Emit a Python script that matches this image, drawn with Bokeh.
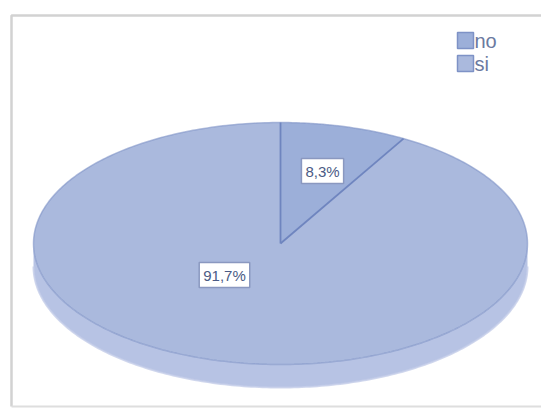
import numpy as np
from bokeh.plotting import figure
from bokeh.models import Range1d
from bokeh.core.properties import value
from bokeh.embed import file_html
from bokeh.resources import INLINE

# ---- data ----
categories = ["no", "si"]
percentages = [8.3, 91.7]
labels = ["8,3%", "91,7%"]
slice_colors = ["#9cafd9", "#aab9dd"]

# ---- layout constants ----
W, H = 541, 408
cx, cy = 280, 243
rx, ry = 247, 121
depth = 23
side_color = "#b7c3e4"
edge_color = "#7e92c6"
label_r = [(0.66, 0.62), (0.88, 0.27)]

p = figure(width=W, height=H, output_backend="svg", toolbar_location=None,
           x_range=Range1d(0, W), y_range=Range1d(H, 0), min_border=0)
p.axis.visible = False
p.grid.visible = False
p.outline_line_color = None
p.background_fill_color = "white"
p.border_fill_color = "white"

# frame
p.line([11, 11, W + 5], [H - 2, 15, 15], line_color="#d2d2d2", line_width=2.5)
p.line([11, W + 5], [H - 2, H - 2], line_color="#dedede", line_width=2)

def ell(theta, dy=0.0):
    # theta measured clockwise from 12 o'clock
    return cx + rx * np.sin(theta), cy - ry * np.cos(theta) + dy

# side band (visible front half)
t_front = np.linspace(np.pi / 2, 3 * np.pi / 2, 200)
xt, yt = ell(t_front)
xb, yb = ell(t_front[::-1], depth)
p.patch(np.concatenate([xt, xb]), np.concatenate([yt, yb]),
        fill_color=side_color, line_color=None)
xb2, yb2 = ell(t_front, depth)
p.line(xb2, yb2, line_color="#c4cde8", line_width=2, line_alpha=0.8)

# top face slices
fracs = np.array(percentages) / sum(percentages)
starts = np.concatenate([[0], np.cumsum(fracs)[:-1]]) * 2 * np.pi
ends = np.cumsum(fracs) * 2 * np.pi
xs, ys = [], []
for s, e in zip(starts, ends):
    t = np.linspace(s, e, 300)
    x, y = ell(t)
    xs.append(np.concatenate([[cx], x, [cx]]))
    ys.append(np.concatenate([[cy], y, [cy]]))
p.patches(xs, ys, fill_color=slice_colors, line_color=None)

# outer rim (soft) and radial dividers (stronger)
t_all = np.linspace(0, 2 * np.pi, 400)
ox, oy = ell(t_all)
p.line(ox, oy, line_color=edge_color, line_width=1.5, line_alpha=0.6)
for s in starts:
    ex, ey = ell(s)
    p.line([cx, ex], [cy, ey], line_color="#6f85bf", line_width=1.8)

# labels
lx, ly = [], []
for (fr_x, fr_y), s, e in zip(label_r, starts, ends):
    m = (s + e) / 2
    lx.append(cx + rx * fr_x * np.sin(m))
    ly.append(cy - ry * fr_y * np.cos(m))
p.text(lx, ly, text=labels, text_font=value("Liberation Sans"),
       text_font_size="15px", text_color="#4b5b85", text_align="center",
       text_baseline="middle", background_fill_color="white",
       border_line_color="#8a98c0", border_line_width=1.5, padding=4)

# legend
leg_x, leg_y0, leg_dy, sq = 465, 40, 23, 16
for i, (c, col) in enumerate(zip(categories, slice_colors)):
    yy = leg_y0 + i * leg_dy
    p.rect([leg_x], [yy], width=sq, height=sq, fill_color=col,
           line_color="#7e92c6", line_width=1.5)
    p.text([leg_x + sq / 2 + 1], [yy], text=[c], text_font=value("Liberation Sans"),
           text_font_size="20px", text_color="#6b7aa0", text_baseline="middle")

open("out.html", "w").write(file_html(p, INLINE))
